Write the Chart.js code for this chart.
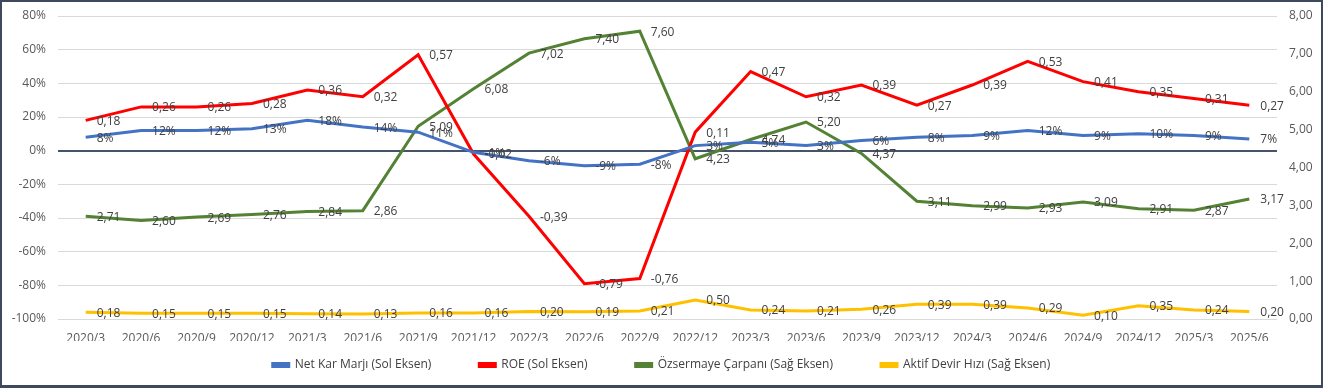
<!DOCTYPE html>
<html>
<head>
<meta charset="utf-8">
<script src="https://cdn.jsdelivr.net/npm/chart.js@4/dist/chart.umd.min.js"></script>
<style>
  html, body { margin: 0; padding: 0; background: #fff; }
  #frame { width: 1323px; height: 388px; box-sizing: border-box; border: 2px solid #3e4a5c; border-bottom-width: 3px; position: relative; }
  #wrap { position: relative; width: 100%; height: 100%; }
</style>
</head>
<body>
<div id="frame"><div id="wrap"><canvas id="chart"></canvas></div></div>
<script>
const periods = ["2020/3", "2020/6", "2020/9", "2020/12", "2021/3", "2021/6", "2021/9", "2021/12", "2022/3", "2022/6", "2022/9",
  "2022/12", "2023/3", "2023/6", "2023/9", "2023/12", "2024/3", "2024/6", "2024/9", "2024/12", "2025/3", "2025/6"];
const netKarMarji = [0.08, 0.12, 0.12, 0.13, 0.18, 0.14, 0.11, -0.01, -0.06, -0.09, -0.08, 0.03, 0.05, 0.03, 0.06, 0.08, 0.09, 0.12, 0.09, 0.10, 0.09, 0.07];
const roe = [0.18, 0.26, 0.26, 0.28, 0.36, 0.32, 0.57, -0.02, -0.39, -0.79, -0.76, 0.11, 0.47, 0.32, 0.39, 0.27, 0.39, 0.53, 0.41, 0.35, 0.31, 0.27];
const ozsermayeCarpani = [2.71, 2.60, 2.69, 2.76, 2.84, 2.86, 5.09, 6.08, 7.02, 7.40, 7.60, 4.23, 4.74, 5.20, 4.37, 3.11, 2.99, 2.93, 3.09, 2.91, 2.87, 3.17];
const aktifDevirHizi = [0.18, 0.15, 0.15, 0.15, 0.14, 0.13, 0.16, 0.16, 0.20, 0.19, 0.21, 0.50, 0.24, 0.21, 0.26, 0.39, 0.39, 0.29, 0.10, 0.35, 0.24, 0.20];

const pct = (v) => Math.round(v * 100) + "%";
const dec = (v) => v.toFixed(2).replace(".", ",");
const formatters = [pct, dec, dec, dec];

Chart.defaults.font.family = '"Open Sans", sans-serif';
Chart.defaults.font.size = 12;
Chart.defaults.color = "#595959";

// Excel style data labels: to the right of every point
const valueLabels = {
  id: "valueLabels",
  afterDatasetsDraw(chart) {
    const ctx = chart.ctx;
    ctx.save();
    ctx.font = '12px "Open Sans", sans-serif';
    ctx.fillStyle = "#404040";
    ctx.textAlign = "left";
    ctx.textBaseline = "middle";
    chart.data.datasets.forEach((ds, i) => {
      chart.getDatasetMeta(i).data.forEach((pt, j) => {
        ctx.fillText(formatters[i](ds.data[j]), pt.x + 11, pt.y + 1);
      });
    });
    ctx.restore();
  },
};

// keep the legend small in the layout, then move it down to its row
const legendRow = {
  id: "legendRow",
  beforeLayout(chart) {
    const lg = chart.legend;
    if (lg && !lg._patched) {
      const fit = lg.fit;
      lg.fit = function () { fit.call(this); this.height = 44; };
      lg._patched = true;
    }
  },
  afterLayout(chart) {
    const lg = chart.legend;
    lg.top = 363 - 48 - 6;
    lg.bottom = chart.height;
  },
};

const noEdgePad = (s) => { s.paddingTop = 0; s.paddingBottom = 0; };

const line = (label, data, color, axis) => ({
  label,
  data,
  borderColor: color,
  backgroundColor: color,
  borderWidth: 3,
  pointRadius: 0,
  tension: 0,
  yAxisID: axis,
});

new Chart(document.getElementById("chart"), {
  type: "line",
  data: {
    labels: periods,
    datasets: [
      line("Net Kar Marjı (Sol Eksen)", netKarMarji, "#4472c4", "y"),
      line("ROE (Sol Eksen)", roe, "#ff0000", "y"),
      line("Özsermaye Çarpanı (Sağ Eksen)", ozsermayeCarpani, "#548235", "y1"),
      line("Aktif Devir Hızı (Sağ Eksen)", aktifDevirHizi, "#ffc000", "y1"),
    ],
  },
  options: {
    responsive: true,
    maintainAspectRatio: false,
    animation: false,
    layout: { padding: { top: 14, bottom: 0, left: 0, right: 0 } },
    plugins: {
      tooltip: { enabled: false },
      legend: {
        position: "bottom",
        labels: { boxWidth: 16, boxHeight: 3, padding: 48, color: "#404040" },
      },
    },
    scales: {
      x: {
        offset: true,
        grid: { display: false },
        border: { display: false },
        ticks: { padding: 4, maxRotation: 0, autoSkip: false },
        afterFit: (s) => { s.height = 22; },
      },
      y: {
        position: "left",
        min: -1,
        max: 0.8,
        ticks: { stepSize: 0.2, padding: 12, callback: (v) => pct(v) },
        border: { display: false },
        grid: {
          drawTicks: false,
          color: (c) => (Math.abs(c.tick.value) < 1e-9 ? "#44546a" : "#d9d9d9"),
          lineWidth: (c) => (Math.abs(c.tick.value) < 1e-9 ? 2 : 1),
        },
        afterFit: (s) => { s.width = 56; noEdgePad(s); },
      },
      y1: {
        position: "right",
        min: 0,
        max: 8,
        ticks: { stepSize: 1, padding: 12, callback: (v) => dec(v) },
        border: { display: false },
        grid: { display: false, drawTicks: false },
        afterFit: (s) => { s.width = 44; noEdgePad(s); },
      },
    },
  },
  plugins: [valueLabels, legendRow],
});
</script>
</body>
</html>
